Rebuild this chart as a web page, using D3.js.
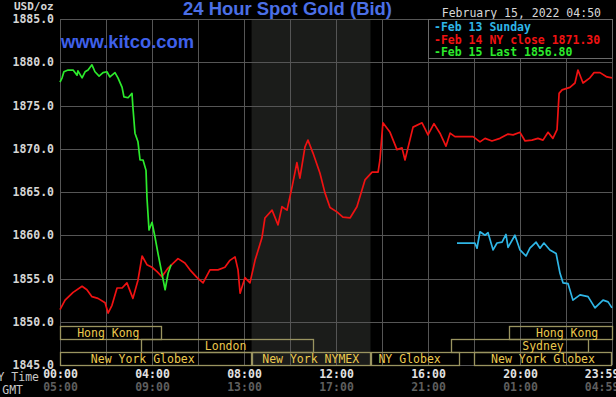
<!DOCTYPE html>
<html>
<head>
<meta charset="utf-8">
<script src="https://cdn.jsdelivr.net/npm/d3@7"></script>
<style>
  body { margin: 0; background: #000; }
  svg { display: block; }
  .mono { font-family: "DejaVu Sans Mono", "Liberation Mono", monospace; }
</style>
</head>
<body>
<svg id="chart" width="616" height="397"></svg>
<script>
// hours after midnight (NY time), price in USD/oz
const feb14Close = [
  [0.00, 1851.4], [0.22, 1852.5], [0.57, 1853.4], [0.96, 1854.1], [1.17, 1853.7],
  [1.39, 1852.9], [1.65, 1852.7], [1.96, 1852.2], [2.09, 1851.0], [2.26, 1851.9],
  [2.48, 1853.9], [2.70, 1853.9], [2.91, 1854.5], [3.17, 1852.7], [3.39, 1854.8],
  [3.57, 1857.6], [3.78, 1856.6], [4.00, 1856.3], [4.22, 1855.8], [4.43, 1855.2],
  [4.70, 1856.2], [5.13, 1857.3], [5.43, 1856.8], [5.65, 1856.0], [5.96, 1855.1],
  [6.22, 1854.5], [6.52, 1856.0], [6.87, 1856.0], [7.17, 1856.3], [7.39, 1857.1],
  [7.61, 1857.5], [7.74, 1856.0], [7.83, 1853.3], [8.04, 1855.1], [8.26, 1854.5],
  [8.48, 1857.1], [8.78, 1859.7], [8.91, 1862.0], [9.22, 1862.9], [9.48, 1861.2],
  [9.65, 1863.3], [9.87, 1862.9], [10.09, 1865.6], [10.30, 1868.4], [10.43, 1866.6],
  [10.65, 1870.2], [10.78, 1871.0], [11.00, 1869.5], [11.30, 1867.2], [11.52, 1864.9],
  [11.74, 1863.2], [12.04, 1862.7], [12.30, 1862.1], [12.61, 1862.0], [12.91, 1863.3],
  [13.26, 1866.4], [13.57, 1867.3], [13.83, 1867.3], [13.91, 1868.7], [14.04, 1873.0],
  [14.35, 1871.9], [14.65, 1869.9], [14.87, 1870.1], [15.00, 1868.7], [15.35, 1872.5],
  [15.74, 1873.0], [16.00, 1871.6], [16.26, 1872.9], [16.52, 1871.8], [16.78, 1870.3],
  [16.96, 1871.8], [17.17, 1871.4], [17.96, 1871.4], [18.26, 1870.8], [18.48, 1871.2],
  [18.78, 1870.9], [19.13, 1871.2], [19.48, 1871.7], [19.70, 1871.6], [20.00, 1871.9],
  [20.22, 1870.9], [20.52, 1871.0], [20.78, 1871.2], [21.00, 1871.0], [21.22, 1871.9],
  [21.43, 1871.2], [21.61, 1872.2], [21.70, 1876.4], [21.83, 1876.8], [22.17, 1877.1],
  [22.39, 1877.6], [22.52, 1879.1], [22.74, 1877.6], [23.04, 1878.2], [23.22, 1878.8],
  [23.48, 1878.8], [23.78, 1878.3], [24.00, 1878.2]
];

const feb15Last = [
  [0.00, 1877.7], [0.09, 1878.2], [0.17, 1878.9], [0.35, 1879.1], [0.57, 1879.1],
  [0.74, 1878.5], [0.78, 1879.0], [0.96, 1878.2], [1.09, 1878.9], [1.22, 1879.1],
  [1.39, 1879.7], [1.52, 1878.9], [1.70, 1878.4], [1.87, 1878.8], [2.04, 1878.9],
  [2.17, 1878.3], [2.39, 1878.8], [2.52, 1878.2], [2.70, 1877.1], [2.78, 1876.0],
  [2.96, 1875.9], [3.13, 1876.4], [3.17, 1874.8], [3.26, 1871.8], [3.39, 1870.8],
  [3.48, 1868.7], [3.61, 1868.7], [3.74, 1867.5], [3.78, 1864.4], [3.87, 1860.6],
  [4.00, 1861.5], [4.13, 1859.8], [4.26, 1857.9], [4.43, 1855.6], [4.57, 1853.7],
  [4.70, 1855.6], [4.83, 1856.6]
];

const feb13Sunday = [
  [17.26, 1859.1], [18.04, 1859.1], [18.13, 1858.5], [18.26, 1860.4], [18.48, 1860.0],
  [18.61, 1860.3], [18.83, 1858.3], [19.00, 1859.1], [19.22, 1859.2], [19.39, 1860.1],
  [19.48, 1858.6], [19.78, 1860.0], [20.00, 1858.3], [20.26, 1857.6], [20.43, 1858.5],
  [20.70, 1859.2], [20.87, 1858.5], [21.04, 1859.1], [21.30, 1858.3], [21.57, 1857.9],
  [21.74, 1855.6], [21.87, 1854.5], [22.09, 1854.4], [22.30, 1852.5], [22.61, 1853.1],
  [22.96, 1852.9], [23.26, 1851.6], [23.61, 1852.5], [23.83, 1852.3], [24.00, 1851.6]
];

const legendLabels = ["Feb 13 Sunday", "Feb 14 NY close 1871.30", "Feb 15 Last 1856.80"];

const yTicks = [1845, 1850, 1855, 1860, 1865, 1870, 1875, 1880, 1885];
const xTickHours = [0, 4, 8, 12, 16, 20, 23.98];
const nyTimeLabels = ["00:00", "04:00", "08:00", "12:00", "16:00", "20:00", "23:59"];
const gmtLabels = ["05:00", "09:00", "13:00", "17:00", "21:00", "01:00", "04:59"];

// trading sessions: name, row, start hour, end hour, label centre hour
const sessionNames = ["Hong Kong", "London", "New York Globex", "New York NYMEX", "NY Globex", "New York Globex", "Sydney", "Hong Kong"];
const sessionRows = [0, 1, 2, 2, 2, 2, 1, 0];
const sessionStart = [0, 3.5, 0, 8.33, 13.5, 18.0, 17.0, 19.5];
const sessionEnd = [4.45, 11.0, 8.33, 13.5, 17.35, 24, 23.0, 24];
const sessionLabelAt = [2.1, 7.2, 3.6, 10.9, 15.2, 21.0, 21.0, 22.05];

const pitOpen = 8.33, pitClose = 13.5;

const svg = d3.select("#chart");
const W = 616, H = 397;
svg.append("rect").attr("width", W).attr("height", H).attr("fill", "#000");

const x = d3.scaleLinear().domain([0, 24]).range([60, 612]);
const y = d3.scaleLinear().domain([1845, 1885]).range([365, 19]);

// NYMEX pit session shading
svg.append("rect")
  .attr("x", x(pitOpen)).attr("y", y(1885))
  .attr("width", x(pitClose) - x(pitOpen)).attr("height", y(1845) - y(1885))
  .attr("fill", "#1b1c1a");

// grid
const grid = svg.append("g").attr("stroke", "#555").attr("stroke-width", 1);
grid.selectAll("line.h").data(yTicks).enter().append("line")
  .attr("x1", x(0)).attr("x2", x(24))
  .attr("y1", d => Math.round(y(d)) + 0.5).attr("y2", d => Math.round(y(d)) + 0.5);
grid.selectAll("line.v").data(d3.range(0, 25, 2)).enter().append("line")
  .attr("y1", y(1885)).attr("y2", y(1845))
  .attr("x1", d => Math.round(x(d)) + 0.5).attr("x2", d => Math.round(x(d)) + 0.5);

// session boxes
const rowTop = [326, 339, 352], rowH = 13;
const sess = svg.append("g");
sessionNames.forEach((name, i) => {
  sess.append("rect")
    .attr("x", Math.round(x(sessionStart[i])) + 0.5)
    .attr("y", rowTop[sessionRows[i]] + 0.5)
    .attr("width", Math.round(x(sessionEnd[i]) - x(sessionStart[i])) - 1)
    .attr("height", rowH)
    .attr("fill", "none").attr("stroke", "#9a9460").attr("stroke-width", 1.3);
  sess.append("text").attr("class", "mono")
    .attr("x", x(sessionLabelAt[i])).attr("y", rowTop[sessionRows[i]] + 10.5)
    .attr("text-anchor", "middle")
    .attr("font-size", 11.5).attr("fill", "#ecc94e")
    .text(name);
});

// price lines
const line = d3.line().x(d => x(d[0])).y(d => y(d[1]));
const series = [
  { data: feb13Sunday, color: "#2fb6e6" },
  { data: feb14Close, color: "#f01212" },
  { data: feb15Last, color: "#2cea2c" }
];
svg.append("g").selectAll("path").data(series).enter().append("path")
  .attr("d", d => line(d.data))
  .attr("fill", "none").attr("stroke", d => d.color)
  .attr("stroke-width", 1.7).attr("stroke-linejoin", "round");

// y axis
const yAxis = svg.append("g").attr("transform", "translate(60,0)")
  .call(d3.axisLeft(y).tickValues(yTicks).tickFormat(d3.format(".1f")).tickSize(0).tickPadding(6));
yAxis.select(".domain").remove();
yAxis.selectAll("text").attr("class", "mono")
  .attr("font-size", 11.5).attr("font-weight", "bold").attr("fill", "#d6d6d6");

// x axes: NY time and GMT
const xNY = svg.append("g").attr("transform", "translate(0,370)")
  .call(d3.axisBottom(x).tickValues(xTickHours).tickFormat((d, i) => nyTimeLabels[i]).tickSize(0).tickPadding(0));
const xGMT = svg.append("g").attr("transform", "translate(0,383)")
  .call(d3.axisBottom(x).tickValues(xTickHours).tickFormat((d, i) => gmtLabels[i]).tickSize(0).tickPadding(0));
[xNY, xGMT].forEach((g, k) => {
  g.select(".domain").remove();
  g.selectAll("text").attr("class", "mono")
    .attr("font-size", 11.5).attr("font-weight", "bold")
    .attr("fill", k === 0 ? "#e2e2e2" : "#5e5e5e");
  g.selectAll(".tick").filter((d, i) => i === xTickHours.length - 1)
    .select("text").attr("dx", -10);
});

svg.append("text").attr("class", "mono").attr("x", 39).attr("y", 381)
  .attr("text-anchor", "end").attr("font-size", 11.5).attr("fill", "#c8c8c8").text("NY Time");
svg.append("text").attr("class", "mono").attr("x", 23).attr("y", 394)
  .attr("text-anchor", "end").attr("font-size", 11.5).attr("fill", "#c8c8c8").text("GMT");

svg.append("text").attr("class", "mono").attr("x", 14).attr("y", 10)
  .attr("font-size", 11).attr("font-weight", "bold").attr("fill", "#d6d6d6").text("USD/oz");

// title, watermark, date
svg.append("text").attr("x", 183).attr("y", 15)
  .attr("font-family", "Liberation Sans, Arial, sans-serif").attr("font-weight", "bold")
  .attr("font-size", 17.5).attr("fill", "#4b6fe6")
  .attr("textLength", 209).attr("lengthAdjust", "spacingAndGlyphs")
  .text("24 Hour Spot Gold (Bid)");
svg.append("text").attr("x", 61).attr("y", 48)
  .attr("font-family", "Liberation Sans, Arial, sans-serif").attr("font-weight", "bold")
  .attr("font-size", 17.5).attr("fill", "#3f60ea")
  .attr("textLength", 133).attr("lengthAdjust", "spacingAndGlyphs")
  .text("www.kitco.com");
svg.append("text").attr("class", "mono").attr("x", 601).attr("y", 17)
  .attr("text-anchor", "end").attr("font-size", 11.5).attr("fill", "#d8d8d8")
  .text("February 15, 2022 04:50");

// legend
const legend = svg.append("g");
legend.append("rect").attr("x", 428.5).attr("y", 19.5).attr("width", 184).attr("height", 39)
  .attr("fill", "#000").attr("stroke", "#6a6a6a");
legendLabels.forEach((t, i) => {
  legend.append("text").attr("class", "mono")
    .attr("x", 434).attr("y", 31 + i * 12.5)
    .attr("font-size", 11.5).attr("font-weight", "bold").attr("fill", series[i].color)
    .text("-" + t);
});
</script>
</body>
</html>
